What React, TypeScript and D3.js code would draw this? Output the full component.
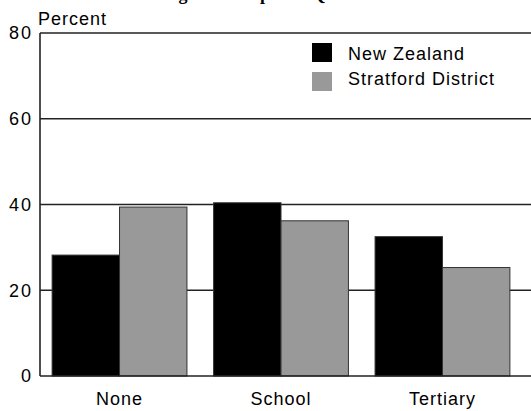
import React from "react";
import * as d3 from "d3";

const categories = ["None", "School", "Tertiary"];
const seriesNames = ["New Zealand", "Stratford District"];
const newZealand = [28.2, 40.4, 32.5];
const stratford = [39.4, 36.2, 25.3];
const yTicks = [0, 20, 40, 60, 80];
const colors = ["#000000", "#999999"];

const W = 531;
const H = 411;
const left = 40;
const top = 33;
const bottom = 376;

const FONT = "'Liberation Sans', Arial, sans-serif";

export default function App() {
  const y = d3.scaleLinear().domain([0, 80]).range([bottom, top]);
  const x0 = d3
    .scaleBand<string>()
    .domain(categories)
    .range([left, 522])
    .paddingInner(0.165)
    .paddingOuter(0.075);
  const x1 = d3
    .scaleBand<string>()
    .domain(seriesNames)
    .range([0, x0.bandwidth()]);
  const values = [newZealand, stratford];

  const txt = {
    fontFamily: FONT,
    fontSize: 18,
    letterSpacing: 1,
    fill: "#000",
  } as React.CSSProperties;
  const tickTxt = { ...txt, letterSpacing: 2 } as React.CSSProperties;

  return (
    <div style={{ position: "absolute", left: 0, top: 0 }}>
      <svg width={W} height={H} style={{ display: "block", background: "#fff" }}>
        <text
          x={286}
          y={0}
          textAnchor="middle"
          style={{ fontFamily: "'Liberation Serif', 'Times New Roman', serif", fontWeight: "bold", fontSize: 18 }}
        >
          Highest Completed Qualification
        </text>
        {yTicks.map((t) => (
          <g key={t}>
            {t > 0 && (
              <line x1={left} x2={W} y1={y(t)} y2={y(t)} stroke="#222" strokeWidth={1.6} />
            )}
            <text x={33} y={y(t)} dy="0.36em" textAnchor="end" style={tickTxt}>
              {t}
            </text>
          </g>
        ))}
        {categories.map((c, i) => (
          <g key={c}>
            {seriesNames.map((s, j) => (
              <rect
                key={s}
                x={(x0(c) ?? 0) + (x1(s) ?? 0)}
                y={y(values[j][i])}
                width={x1.bandwidth()}
                height={y(0) - y(values[j][i])}
                fill={colors[j]}
                stroke="#333"
                strokeWidth={1}
              />
            ))}
            <text
              x={(x0(c) ?? 0) + x0.bandwidth() / 2}
              y={405}
              textAnchor="middle"
              style={txt}
            >
              {c}
            </text>
          </g>
        ))}
        <line x1={left} x2={left} y1={top} y2={bottom} stroke="#222" strokeWidth={1.6} />
        <line x1={left} x2={W} y1={bottom} y2={bottom} stroke="#222" strokeWidth={1.6} />
        <text x={38} y={25} style={txt}>
          Percent
        </text>
        {seriesNames.map((s, j) => (
          <g key={s}>
            <rect x={312} y={43 + j * 29} width={20} height={19} fill={colors[j]} />
            <text x={348} y={60 + j * 25} style={txt}>
              {s}
            </text>
          </g>
        ))}
      </svg>
    </div>
  );
}
